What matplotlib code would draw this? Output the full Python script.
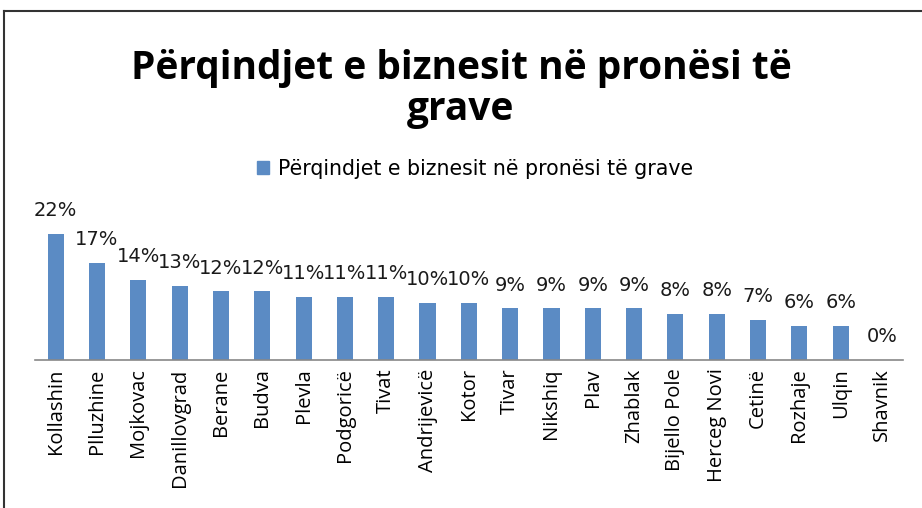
import matplotlib.pyplot as plt
import numpy as np
from matplotlib.lines import Line2D

# data
cities = ["Kollashin", "Plluzhine", "Mojkovac", "Danillovgrad", "Berane", "Budva",
          "Plevla", "Podgoricë", "Tivat", "Andrijevicë", "Kotor", "Tivar", "Nikshiq",
          "Plav", "Zhablak", "Bijello Pole", "Herceg Novi", "Cetinë", "Rozhaje",
          "Ulqin", "Shavnik"]
percent = [22, 17, 14, 13, 12, 12, 11, 11, 11, 10, 10, 9, 9, 9, 9, 8, 8, 7, 6, 6, 0]
series_name = "Përqindjet e biznesit në pronësi të grave"
title = "Përqindjet e biznesit në pronësi të\ngrave"

bar_color = "#5b8bc4"

fig = plt.figure(figsize=(9.22, 5.08), dpi=100)
ax = fig.add_axes([0.038, 0.2913, 0.941, 0.282])

x = np.arange(len(cities))
bars = ax.bar(x, percent, width=0.39, color=bar_color)

for xi, v in zip(x, percent):
    ax.text(xi, v + 2.4, f"{v}%", ha="center", va="bottom",
            fontsize=14, family="DejaVu Sans", color="#1a1a1a")

ax.set_xlim(-0.5, len(cities) - 0.5)
ax.set_ylim(0, 25)
ax.set_yticks([])
ax.set_xticks(x)
ax.set_xticklabels(cities, rotation=90, fontsize=14.5, family="Open Sans")
ax.tick_params(axis="x", length=0, pad=6)
for s in ["top", "right", "left"]:
    ax.spines[s].set_visible(False)
ax.spines["bottom"].set_color("#888888")
ax.spines["bottom"].set_linewidth(1.2)
ax.set_facecolor("none")

# title
fig.text(0.5, 0.825, title, ha="center", va="center", fontsize=28,
         fontweight="bold", family="Open Sans", linespacing=1.05)

# legend
leg = fig.legend([plt.Rectangle((0, 0), 1, 1, color=bar_color)], [series_name],
                 loc="center", bbox_to_anchor=(0.515, 0.667), frameon=False,
                 handlelength=0.6, handleheight=0.6, handletextpad=0.4,
                 prop={"family": "DejaVu Sans", "size": 14.8})

# border (top and left edge of the chart box)
fig.add_artist(Line2D([0.004, 1.0], [1 - 11 / 508, 1 - 11 / 508], transform=fig.transFigure,
                      color="#333333", lw=1.5))
fig.add_artist(Line2D([0.004, 0.004], [0, 1 - 11 / 508], transform=fig.transFigure,
                      color="#333333", lw=1.5))

fig.savefig("out.png", dpi=100)
